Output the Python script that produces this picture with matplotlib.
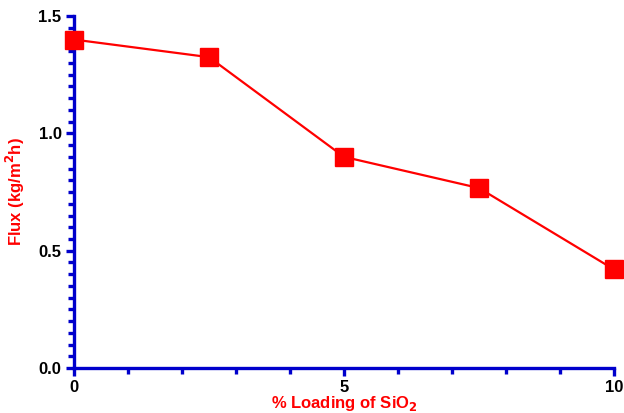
import matplotlib
matplotlib.use("Agg")
import matplotlib.pyplot as plt
from matplotlib.ticker import MultipleLocator, FormatStrFormatter

plt.rcParams["font.family"] = ["Liberation Sans", "DejaVu Sans"]

loading = [0, 2.5, 5, 7.5, 10]
flux = [1.40, 1.325, 0.90, 0.767, 0.42]

blue = "#0000CC"
red = "#FF0000"

fig = plt.figure(figsize=(6.24, 4.13), dpi=100)
ax = fig.add_axes([0.1186, 0.109, 0.8654, 0.852])

ax.plot(loading, flux, color=red, linewidth=1.6, marker="s", markersize=13.5,
        markerfacecolor=red, markeredgecolor=red, clip_on=False, zorder=3)

ax.set_xlim(0, 10)
ax.set_ylim(0, 1.5)
ax.xaxis.set_major_locator(MultipleLocator(5))
ax.xaxis.set_minor_locator(MultipleLocator(1))
ax.yaxis.set_major_locator(MultipleLocator(0.5))
ax.yaxis.set_minor_locator(MultipleLocator(0.05))
ax.yaxis.set_major_formatter(FormatStrFormatter("%.1f"))

for side in ("top", "right"):
    ax.spines[side].set_visible(False)
for side in ("left", "bottom"):
    ax.spines[side].set_color(blue)
    ax.spines[side].set_linewidth(2.4)

ax.tick_params(which="major", length=6, width=2.4, color=blue, direction="out",
               labelsize=12, pad=3)
ax.tick_params(which="minor", length=4, width=2.4, color=blue, direction="out")
for lbl in ax.get_xticklabels() + ax.get_yticklabels():
    lbl.set_fontweight("bold")

ax.set_xlabel("% Loading of SiO$_\\mathbf{2}$", color=red, fontsize=12,
              fontweight="bold", labelpad=-1)
ax.set_ylabel("Flux (kg/m$^\\mathbf{2}$h)", color=red, fontsize=12,
              fontweight="bold", labelpad=8)

fig.savefig("out.png", dpi=100)
